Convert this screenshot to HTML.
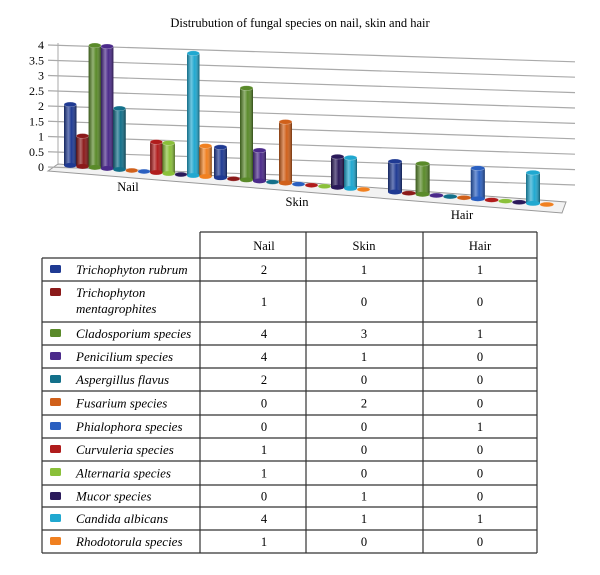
<!DOCTYPE html>
<html><head><meta charset="utf-8"><style>
body{margin:0;background:#fff}
svg{display:block;font-family:"Liberation Serif",serif}
</style></head><body>
<svg width="600" height="575" viewBox="0 0 600 575">
<defs>
<linearGradient id="shade" x1="0" x2="1" y1="0" y2="0">
<stop offset="0" stop-color="#000" stop-opacity="0.35"/>
<stop offset="0.35" stop-color="#fff" stop-opacity="0.35"/>
<stop offset="0.6" stop-color="#fff" stop-opacity="0"/>
<stop offset="1" stop-color="#000" stop-opacity="0.45"/>
</linearGradient>
</defs>
<text x="300" y="27" text-anchor="middle" font-size="12.5">Distrubution of fungal species on nail, skin and hair</text>
<g id="grid"></g>
<g id="yticks"></g>
<g id="bars"></g>
<g id="xlabels"></g>
<g id="table"></g>
</svg>
<script>
const categories = ["Nail","Skin","Hair"];
const species = ["Trichophyton rubrum","Trichophyton|mentagrophites","Cladosporium species","Penicilium species","Aspergillus flavus","Fusarium species","Phialophora species","Curvuleria species","Alternaria species","Mucor species","Candida albicans","Rhodotorula species"];
const nailValues = [2,1,4,4,2,0,0,1,1,0,4,1];
const skinValues = [1,0,3,1,0,2,0,0,0,1,1,0];
const hairValues = [1,0,1,0,0,0,1,0,0,0,1,0];
const yTicks = [0,0.5,1,1.5,2,2.5,3,3.5,4];
const colors = ["#1f3a93","#8b1a1a","#5a8a2a","#4b2a8a","#13708a","#d0601a","#2a5fc0","#b01c1c","#8ac03a","#2a1a5a","#20a8d0","#f08020"];

const NS="http://www.w3.org/2000/svg";
function mk(tag,attrs,parent){const e=document.createElementNS(NS,tag);for(const k in attrs)e.setAttribute(k,attrs[k]);parent.appendChild(e);return e;}
const series=[nailValues,skinValues,hairValues];
const gx0=48,gx1=575;
function backY(x,v){const t=(x-gx0)/(gx1-gx0);const base=167+t*18;const unit=30.5+t*0.3;return base-v*unit;}
function floorY(x){return 165+0.082*(x-65);}
function unitAt(x){return 30.5+(x-65)*0.0005;}
const groupStart=[64,214,388],groupStep=[12.3,13,13.8],barW=[12.5,13,14];
function barX(g,i){return groupStart[g]+i*groupStep[g];}

const grid=document.getElementById('grid'),yt=document.getElementById('yticks');
const floor=mk('polygon',{points:`${gx0+10},164 ${gx0},171 562,213 566,202`,fill:'#f2f2f2',stroke:'#999','stroke-width':1},grid);

mk('line',{x1:gx0+10,y1:backY(gx0,4)-2,x2:gx0+10,y2:165,stroke:'#aaa'},grid);
yTicks.forEach(v=>{
 const l=mk('line',{x1:gx0,y1:backY(gx0,v),x2:gx1,y2:backY(gx1,v),stroke:'#aaa','stroke-width':1.2},grid);
 
 const t=mk('text',{x:44,y:backY(gx0,v)+4,'text-anchor':'end','font-size':12},yt);
 t.textContent=String(v);
 
});
const bars=document.getElementById('bars');
series.forEach((vals,g)=>{
 vals.forEach((v,i)=>{
  const x=barX(g,i),w=barW[g],yb=floorY(x+w/2),h=v*unitAt(x),yt2=yb-h,ry=2.4;
  const grp=mk('g',{},bars);
  
  
  if(h>0){
   mk('rect',{x:x,y:yt2,width:w,height:h,fill:colors[i]},grp);
   mk('rect',{x:x,y:yt2,width:w,height:h,fill:'url(#shade)'},grp);
   mk('ellipse',{cx:x+w/2,cy:yb,rx:w/2,ry:ry,fill:colors[i]},grp);
  }
  mk('ellipse',{cx:x+w/2,cy:yt2,rx:w/2,ry:ry,fill:colors[i],stroke:'#fff','stroke-opacity':0.4,'stroke-width':0.6},grp);
 });
});
const xl=document.getElementById('xlabels');
[[128,191],[297,206],[462,219]].forEach((p,g)=>{
 const t=mk('text',{x:p[0],y:p[1],'text-anchor':'middle','font-size':12.5},xl);
 t.textContent=categories[g];
 
});
const tb=document.getElementById('table');
const rowY=[258,281,322,345,368,391,415,438,461,485,507,530,553];
const colX=[200,306,423,537];
const st={stroke:'#333','stroke-width':1.2};
mk('line',Object.assign({x1:200,y1:232,x2:537,y2:232},st),tb);
colX.forEach(x=>mk('line',Object.assign({x1:x,y1:232,x2:x,y2:553},st),tb));
mk('line',Object.assign({x1:42,y1:258,x2:42,y2:553},st),tb);
rowY.forEach(y=>mk('line',Object.assign({x1:42,y1:y,x2:537,y2:y},st),tb));
const hc=[264,364,480];
categories.forEach((c,g)=>{const t=mk('text',{x:hc[g],y:250,'text-anchor':'middle','font-size':12.5},tb);t.textContent=c;
 });
species.forEach((s,i)=>{
 const y0=rowY[i],y1=rowY[i+1],mid=(y0+y1)/2;
 const sw=mk('rect',{x:50,y:y0+7,width:11,height:8,rx:1.5,fill:colors[i]},tb);
 
 const parts=s.split('|');
 parts.forEach((p,k)=>{
  const t=mk('text',{x:76,y:parts.length>1?y0+16+k*16:mid+4.5,'font-size':13,'font-style':'italic'},tb);
  t.textContent=p;
  
 });
 series.forEach((vals,g)=>{
  const t=mk('text',{x:hc[g],y:mid+4.5,'text-anchor':'middle','font-size':12.5},tb);
  t.textContent=String(vals[i]);
  
 });
});
</script>
</body></html>
